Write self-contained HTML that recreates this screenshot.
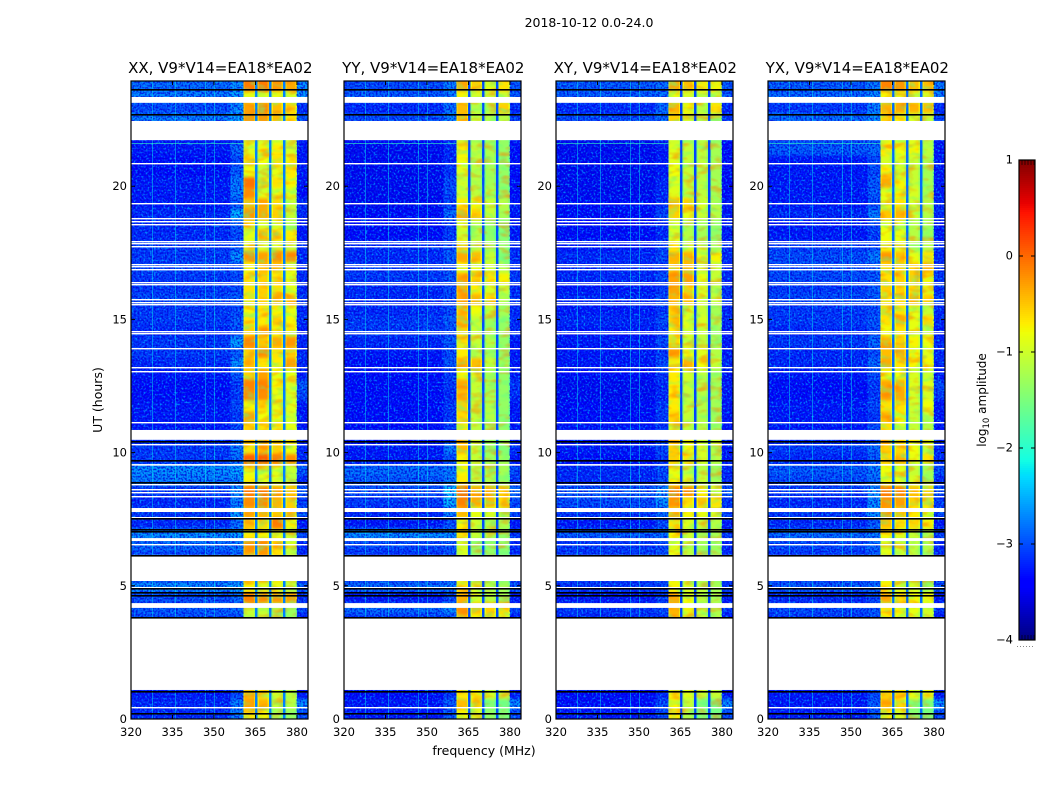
<!DOCTYPE html>
<html>
<head>
<meta charset="utf-8">
<title>Amplitude waterfall</title>
<style>
html,body{margin:0;padding:0;background:#fff;}
svg{display:block;}
text{font-family:"DejaVu Sans","Liberation Sans",sans-serif;fill:#000;}
</style>
</head>
<body>
<svg id="figure" xmlns="http://www.w3.org/2000/svg" width="1050" height="800" viewBox="0 0 1050 800">
  <defs>
    <filter id="speckle" x="0" y="0" width="100%" height="100%" color-interpolation-filters="sRGB">
      <feTurbulence type="fractalNoise" baseFrequency="0.5" numOctaves="1" seed="7"/>
      <feColorMatrix type="matrix" values="0 0 0 0 0  0 0 0 0 0.6  0 0 0 0 1  3.6 0 0 0 -1.65"/>
    </filter>
    <filter id="darkSpeckle" x="0" y="0" width="100%" height="100%" color-interpolation-filters="sRGB">
      <feTurbulence type="fractalNoise" baseFrequency="0.55" numOctaves="1" seed="23"/>
      <feColorMatrix type="matrix" values="0 0 0 0 0  0 0 0 0 0  0 0 0 0 0.85  3.6 0 0 0 -1.5"/>
    </filter>
    <filter id="warmMottle" x="0" y="0" width="100%" height="100%" color-interpolation-filters="sRGB">
      <feTurbulence type="fractalNoise" baseFrequency="0.07 0.14" numOctaves="2" seed="11"/>
      <feColorMatrix type="matrix" values="0 0 0 0 1  0 0 0 0 0.5  0 0 0 0 0  3.2 0 0 0 -1.55"/>
    </filter>
    <filter id="coolMottle" x="0" y="0" width="100%" height="100%" color-interpolation-filters="sRGB">
      <feTurbulence type="fractalNoise" baseFrequency="0.09 0.16" numOctaves="2" seed="31"/>
      <feColorMatrix type="matrix" values="0 0 0 0 0.35  0 0 0 0 1  0 0 0 0 0.55  3.2 0 0 0 -1.55"/>
    </filter>
    <filter id="rowSmooth" x="0" y="-5%" width="100%" height="110%" color-interpolation-filters="sRGB">
      <feGaussianBlur stdDeviation="0 1.5"/>
    </filter>
  </defs>
  <rect x="0" y="0" width="1050" height="800" fill="#fff"/>
  <text x="589" y="27" font-size="12.5" text-anchor="middle">2018-10-12 0.0-24.0</text>
  <g id="panels"></g>
  <text x="484" y="755" font-size="12.5" text-anchor="middle">frequency (MHz)</text>
  <text transform="translate(102,400) rotate(-90)" font-size="12.5" text-anchor="middle">UT (hours)</text>
  <g id="colorbar"></g>
  <text transform="translate(986,400) rotate(-90)" font-size="12" text-anchor="middle">log<tspan font-size="8.5" dy="3">10</tspan><tspan dy="-3"> amplitude</tspan></text>
</svg>
<script>
// --- Chart data -----------------------------------------------------------
var panelTitles = ["XX, V9*V14=EA18*EA02", "YY, V9*V14=EA18*EA02", "XY, V9*V14=EA18*EA02", "YX, V9*V14=EA18*EA02"];
var freqTicks = [320, 335, 350, 365, 380];
var utTicks = [0, 5, 10, 15, 20];
var colorTicks = [1, 0, -1, -2, -3, -4];
var freqRange = [320, 384];
var utRange = [0, 23.95];
var colorRange = [-4, 1];
var rowStepHours = 0.4;
var bgFreqs = [320, 356, 360.6];
var bandFreqs = [[360.6, 364.9], [365.7, 369.9], [370.8, 374.9], [375.8, 380]];
var rightFreqs = [380, 384];
var rfiFreqs = [327.6, 336, 346.8, 350];
var rfiUT = [15.76, 21.62];
var gapLevels = [-2.75, -3.0, -3.05, -2.85];
var bandEdgeDrop = 0.25;
var bandLift = 0.15;

// Flagged (blank) UT ranges, hours
var whiteBlocks = [[23.13, 23.35], [21.73, 22.45], [10.48, 10.85], [9.51, 9.57], [7.77, 7.92], [6.68, 6.79], [5.18, 6.16], [4.17, 4.35], [1.09, 3.81]];
var whiteLines = [20.89, 19.36, 18.80, 18.69, 18.58, 17.96, 17.85, 17.74, 17.07, 16.99, 16.88, 16.40, 16.32, 15.76, 15.65, 15.58, 14.56, 14.49, 13.91, 13.21, 13.06, 11.14, 10.31, 8.83, 8.63, 8.52, 8.38, 7.58, 6.57, 4.97, 0.45];
var blackLines = [23.66, 22.71, 10.42, 9.71, 8.91, 7.54, 7.12, 7.06, 6.14, 4.92, 4.77, 4.64, 3.82, 1.05, 0.23];

// One row per 0.4 h from the top: [background, near-band, band1, band2, band3, band4, right-edge] in log10 amplitude
var xxRows = [
[-2.8,-2.6,-0.25,-0.25,-0.4,-0.5,-2.6],[-2.7,-2.5,-1,-1,-1,-1.1,-2.6],[-3,-2.6,-0.45,-0.35,-0.6,-0.7,-3.2],[-2.7,-2.5,-0.4,-0.4,-0.6,-0.8,-2.9],null,
[-3.3,-3.1,-1,-1.1,-1,-1.2,-3.3],[-3.3,-2.8,-1.05,-0.9,-0.85,-1.1,-3.3],[-3.4,-3,-0.75,-0.95,-0.8,-0.9,-3.3],[-3.4,-2.9,-0.95,-1.2,-1,-0.85,-3.3],[-3.3,-2.7,-0.2,-1,-0.8,-0.9,-3.3],
[-3.3,-2.7,-0.35,-1,-1,-1.05,-3.4],[-3.3,-2.9,-0.6,-0.5,-0.75,-1.2,-3.2],[-3.2,-2.4,-0.4,-0.5,-0.7,-1.2,-3.2],[-3.2,-2.9,-0.75,-1.1,-1.1,-1.3,-3.3],[-3.2,-3,-1,-0.6,-0.75,-0.85,-3.3],
[-3.1,-2.9,-1.05,-1.1,-1.1,-1.2,-3.2],[-3.1,-2.6,-0.4,-0.45,-0.35,-0.35,-3.2],[-3,-3,-0.9,-0.6,-0.65,-1,-3.2],[-3.1,-3,-0.8,-0.7,-0.85,-1,-3.2],[-3.1,-3,-0.8,-0.7,-0.8,-1,-3.2],
[-3,-2.9,-0.8,-0.7,-0.55,-0.6,-3.1],[-3.1,-3,-0.9,-0.85,-0.9,-1,-3.2],[-3.1,-2.9,-0.8,-0.85,-0.7,-0.9,-3.2],[-3.2,-3,-0.7,-0.5,-0.9,-0.8,-3.3],[-3.1,-2.5,-0.35,-0.65,-0.5,-0.4,-3.2],
[-3.1,-2.9,-0.7,-0.4,-0.8,-0.7,-3.2],[-3.2,-2.6,-0.6,-0.85,-0.85,-0.45,-3.2],[-3.3,-2.9,-0.7,-0.45,-0.95,-1,-3.3],[-3.4,-3.1,-0.3,-0.3,-0.9,-1.05,-2.9],[-3.4,-3.1,-0.35,-0.35,-1,-1.1,-3],
[-3.3,-3,-0.9,-0.85,-1,-1.05,-3.3],[-3.3,-3.1,-0.45,-0.95,-0.95,-1.15,-3.3],[-3.3,-3,-0.7,-0.8,-0.85,-1,-3.3],[-3.2,-3,-0.6,-0.5,-0.6,-0.8,-3.2],[-3.1,-2.7,-0.8,-0.55,-0.7,-0.95,-3.2],
[-3.1,-2.8,-0.1,-0.1,-0.25,-0.35,-3.2],[-2.6,-2.5,-1,-1.05,-1.05,-1.2,-2.9],[-2.7,-2.6,-0.9,-1,-1.05,-1.2,-3.2],[-3.1,-2.6,-0.25,-0.25,-0.45,-0.6,-2.9],[-3.2,-2.7,-0.35,-0.35,-0.55,-0.7,-3.1],
[-3.1,-2.5,-0.55,-0.55,-0.65,-0.7,-2.9],[-3.2,-2.8,-0.6,-0.75,-0.25,-0.9,-3.3],[-2.6,-2.5,-0.85,-0.9,-1,-1.15,-3],[-2.8,-2.7,-0.4,-0.35,-0.7,-1.1,-3.2],[-3,-2.8,-0.5,-0.4,-0.8,-1.2,-3.2],
null,null,[-2.6,-2.5,-0.9,-1.05,-1,-1.2,-2.9],[-3,-2.8,-0.3,-0.35,-0.4,-0.45,-3.2],[-2.9,-2.8,-1.2,-1.2,-1.3,-1.45,-3],
[-3,-3,-1.2,-1.2,-1.3,-1.45,-3.3],null,null,null,null,null,null,
[-3.3,-3,-0.6,-0.8,-1.1,-1.2,-3.3],[-3.2,-2.7,-0.45,-0.55,-1.2,-1.3,-2.6],[-3.2,-2.7,-0.8,-0.9,-1.4,-1.5,-3]
];
var yyRows = [
[-3,-2.7,-0.5,-0.7,-1,-0.8,-2.9],[-2.9,-2.7,-0.9,-1.1,-1.2,-1.2,-2.9],[-3.2,-2.8,-0.6,-1.3,-1.3,-0.7,-3.2],[-3,-2.7,-0.6,-1.2,-1.3,-1.3,-3],null,
[-3.4,-3.2,-1.1,-1.3,-1.4,-1.5,-3.3],[-3.5,-3.2,-0.85,-1.25,-1.35,-1.5,-3.4],[-3.5,-3.2,-0.95,-1.25,-1.4,-1.5,-3.4],[-3.5,-3.1,-1.05,-1.3,-1.4,-1.5,-3.4],[-3.5,-3,-1.15,-1.3,-1.4,-1.55,-3.4],
[-3.5,-3,-1.15,-1.25,-1.3,-1.5,-3.4],[-3.5,-3.1,-0.85,-0.9,-1.2,-1.3,-3.3],[-3.4,-2.8,-0.55,-0.7,-1.2,-1.4,-3.3],[-3.4,-3.1,-1.1,-1.3,-1.5,-1.6,-3.3],[-3.4,-3.1,-1.15,-1.3,-1.5,-1.6,-3.3],
[-3.2,-3,-0.8,-1.2,-1.4,-1.5,-3.2],[-3.2,-2.9,-0.5,-0.6,-1.2,-1.6,-3.2],[-3.1,-3,-0.9,-1,-1.15,-1.3,-3.1],[-3.1,-2.9,-0.5,-0.7,-0.8,-0.9,-3.1],[-3.2,-3,-0.55,-0.85,-1.1,-1.2,-3.2],
[-3.2,-3,-0.55,-0.55,-0.75,-1.3,-3.1],[-3.2,-3,-0.65,-0.95,-1.2,-1.4,-3.2],[-3.1,-2.9,-0.6,-1.2,-1.4,-1.5,-3.2],[-3.1,-3,-0.7,-1.2,-1.4,-1.5,-3.2],[-3.2,-2.9,-0.85,-1.2,-1.3,-1.5,-3.3],
[-3.3,-3,-0.85,-1.25,-1.4,-1.5,-3.3],[-3.4,-2.9,-0.6,-0.6,-1.2,-1.4,-3.3],[-3.4,-3.1,-0.9,-1.1,-1.35,-1.5,-3.3],[-3.4,-3.1,-0.5,-1.2,-1.35,-1.5,-3.1],[-3.4,-3.2,-0.6,-1.2,-1.35,-1.5,-3.2],
[-3.4,-3.1,-0.7,-1.2,-1.3,-1.5,-3.3],[-3.4,-3.1,-0.75,-1.2,-1.3,-1.55,-3.3],[-3.4,-3.1,-0.85,-1.25,-1.35,-1.5,-3.3],[-3.3,-3.1,-0.5,-1.2,-1.35,-1.45,-3.3],[-3.3,-2.7,-0.6,-1.2,-1.5,-1.6,-3.2],
[-3.3,-3,-0.9,-1.2,-1.4,-1.4,-3.3],[-2.8,-2.7,-0.9,-1.3,-1.3,-1.4,-3],[-2.9,-2.7,-0.85,-1.25,-1.3,-1.45,-3.1],[-3,-2.3,-0.15,-0.5,-0.5,-0.7,-2.8],[-3.1,-2.4,-0.3,-0.5,-0.6,-0.8,-3],
[-3.2,-2.7,-0.6,-1,-1.1,-1.2,-3],[-3.3,-3,-0.9,-1.15,-1.3,-1.35,-3.3],[-2.6,-2.6,-0.8,-1.2,-1.3,-1.5,-3.1],[-3,-2.9,-1.1,-1.5,-1.5,-1.5,-3.2],[-3.1,-3,-1.05,-1.5,-1.5,-1.6,-3.2],
null,null,[-2.8,-2.7,-0.8,-1.1,-1.2,-1.4,-2.9],[-3.3,-3,-0.55,-1.1,-1.25,-1.4,-3.3],[-2.8,-2.6,-0.4,-0.6,-0.7,-0.75,-3],
[-3.1,-3,-0.6,-0.9,-1,-1.1,-3.3],null,null,null,null,null,null,
[-3.4,-3.1,-0.85,-0.9,-1.1,-1.2,-3.3],[-3.3,-2.9,-0.6,-0.9,-1.6,-1.7,-2.6],[-3.3,-2.9,-0.9,-1.1,-1.5,-1.6,-3]
];
var xyRows = [
[-2.9,-2.8,-0.5,-0.65,-0.85,-0.9,-2.9],[-2.9,-2.8,-1,-1.1,-1.2,-1.2,-2.9],[-3.2,-2.8,-0.55,-0.9,-1.2,-0.8,-3.2],[-3,-2.8,-0.7,-1.1,-1.25,-1.35,-3.1],null,
[-3.5,-3.2,-1.15,-1.25,-1.3,-1.45,-3.4],[-3.5,-3.3,-1.05,-1.2,-1.25,-1.4,-3.4],[-3.5,-3.3,-1.05,-1.2,-1.25,-1.4,-3.4],[-3.5,-3.3,-0.95,-1.2,-1.25,-1.4,-3.4],[-3.5,-3.2,-1.05,-1.2,-1.25,-1.4,-3.4],
[-3.5,-3.2,-1.05,-1.2,-1.25,-1.4,-3.4],[-3.4,-3.2,-0.6,-0.7,-1.1,-1.3,-3.3],[-3.4,-3,-0.7,-1,-1.15,-1.3,-3.3],[-3.4,-3.2,-1.1,-1.3,-1.4,-1.5,-3.3],[-3.4,-3.2,-1.1,-1.3,-1.4,-1.5,-3.3],
[-3.3,-3.1,-0.85,-1.1,-1.2,-1.4,-3.2],[-3.2,-3,-0.55,-0.55,-1,-0.9,-3.2],[-3.2,-3.1,-0.65,-0.6,-1.15,-1.2,-3.2],[-3.2,-3,-0.45,-0.45,-1,-1.2,-3.2],[-3.3,-3.1,-0.45,-0.7,-1.1,-1.3,-3.2],
[-3.2,-3,-0.55,-0.6,-1.05,-1.2,-3.1],[-3.3,-3.1,-0.7,-1.1,-1.2,-1.4,-3.2],[-3.2,-3,-0.7,-1.05,-1.1,-1.35,-3.2],[-3.3,-3.1,-0.85,-1.1,-1.2,-1.45,-3.3],[-3.3,-3,-0.75,-1.15,-1.25,-1.4,-3.3],
[-3.3,-3.1,-0.45,-0.95,-1.05,-1.3,-3.3],[-3.3,-3,-0.85,-0.55,-0.95,-1.2,-3.2],[-3.4,-3.1,-0.85,-1.15,-1.25,-1.4,-3.3],[-3.5,-3.2,-0.85,-1.2,-1.3,-1.4,-3.3],[-3.5,-3.2,-0.85,-1.2,-1.3,-1.4,-3.3],
[-3.4,-3.1,-0.85,-1.2,-1.3,-1.4,-3.3],[-3.4,-3.1,-0.7,-1.2,-1.3,-1.45,-3.3],[-3.3,-3.1,-1,-1.2,-1.3,-1.45,-3.3],[-3.3,-3.1,-0.6,-0.9,-1,-1.1,-3.3],[-3.3,-3,-0.7,-0.95,-1.1,-1.3,-3.3],
[-3.4,-3.1,-0.7,-0.8,-1.1,-1.3,-3.3],[-3.2,-3,-1,-1.25,-1.3,-1.45,-3.2],[-3.2,-3,-0.9,-1.1,-1.2,-1.35,-3.2],[-2.9,-2.6,-0.25,-0.35,-0.9,-1,-2.9],[-3,-2.6,-0.4,-0.8,-0.65,-0.8,-3.1],
[-3.1,-2.8,-0.6,-0.9,-1,-1.1,-3],[-3.3,-3,-0.8,-1.05,-1.2,-1.3,-3.3],[-2.9,-2.8,-0.9,-1.15,-1.3,-1.4,-3.1],[-3.1,-3,-1.05,-1.25,-1.4,-1.45,-3.2],[-3.1,-3,-1,-1.25,-1.35,-1.45,-3.2],
null,null,[-3.1,-3,-0.9,-1.1,-1.25,-1.4,-3.1],[-3.3,-3.1,-0.5,-0.95,-1.2,-1.35,-3.3],[-3.1,-3,-0.55,-0.95,-1.2,-1.35,-3.1],
[-3.2,-3.1,-0.6,-1,-1.2,-1.3,-3.3],null,null,null,null,null,null,
[-3.4,-3.2,-0.9,-1.05,-1.2,-1.2,-3.3],[-3.4,-3,-0.9,-1.2,-1.6,-1.7,-2.6],[-3.3,-3,-0.85,-1.3,-1.6,-1.7,-3]
];
var yxRows = [
[-2.9,-2.7,-0.3,-0.4,-0.6,-0.6,-2.7],[-2.8,-2.6,-0.9,-1,-1.1,-1.1,-2.7],[-3.1,-2.7,-0.55,-0.5,-0.55,-0.6,-3.2],[-2.8,-2.6,-0.7,-0.85,-1.1,-1.2,-3],null,
[-3,-2.9,-0.9,-1.05,-1.05,-1.3,-3.3],[-2.9,-2.8,-0.85,-0.95,-0.9,-1.25,-3.3],[-3.3,-3,-1.1,-1.1,-1.2,-1.35,-3.3],[-3.3,-3,-0.85,-1.1,-1.2,-1.4,-3.3],[-3.3,-2.9,-0.5,-0.9,-1.2,-1.4,-3.3],
[-3.3,-2.9,-1,-0.9,-1.1,-1.2,-3.3],[-3.3,-3,-1.05,-0.8,-1.15,-1.3,-3.2],[-3.2,-2.7,-0.65,-0.55,-1.15,-1.3,-3.2],[-3.3,-3,-1,-1.1,-1.3,-1.4,-3.3],[-3.3,-3.1,-0.95,-1,-1.3,-1.4,-3.3],
[-3.1,-3,-0.9,-1,-1.25,-1.3,-3.2],[-3,-2.7,-0.4,-0.6,-1,-0.8,-3.2],[-3,-2.9,-0.75,-0.7,-0.7,-0.55,-3.1],[-3,-2.9,-0.8,-0.7,-0.7,-0.9,-3.1],[-3.1,-2.9,-0.7,-0.7,-0.75,-1,-3.2],
[-3,-2.9,-0.8,-0.75,-0.55,-0.7,-3],[-3.1,-3,-0.75,-0.8,-1,-1.2,-3.2],[-3.1,-2.9,-0.8,-0.6,-1,-0.75,-3.2],[-3.2,-3,-0.95,-0.8,-1,-1.1,-3.3],[-3.1,-2.8,-0.55,-0.7,-0.9,-0.95,-3.2],
[-3.2,-3,-0.6,-0.55,-0.9,-1.05,-3.2],[-3.2,-2.8,-0.5,-0.8,-0.9,-0.9,-3.2],[-3.3,-3,-0.95,-0.95,-1.1,-1.2,-3.3],[-3.4,-3.1,-0.5,-0.55,-1.05,-1.05,-3],[-3.4,-3.1,-0.45,-0.5,-1.1,-1.1,-3.1],
[-3.3,-3,-0.8,-0.8,-1.15,-0.95,-3.3],[-3.3,-3.1,-0.55,-0.9,-1.2,-1.2,-3.3],[-3.3,-3,-0.8,-1.1,-1.2,-1.3,-3.3],[-3.2,-3,-0.45,-0.7,-0.8,-0.9,-3.2],[-3.1,-2.8,-0.7,-0.75,-0.95,-1.2,-3.2],
[-3.2,-2.9,-0.75,-0.6,-1,-0.8,-3.2],[-2.9,-2.7,-0.95,-1.05,-1.2,-1.35,-3],[-3,-2.8,-0.9,-1,-1.1,-1.3,-3.2],[-3.1,-2.6,-0.25,-0.3,-0.6,-0.7,-2.9],[-3.2,-2.6,-0.4,-0.45,-0.7,-0.75,-3.1],
[-3.1,-2.6,-0.45,-0.65,-0.85,-1,-3],[-3.2,-2.9,-0.6,-0.8,-0.75,-0.9,-3.3],[-2.8,-2.7,-0.9,-1.05,-1.15,-1.3,-3.1],[-3,-2.8,-1.1,-1.1,-1.25,-1.3,-3.2],[-3.1,-2.9,-1,-1.15,-1.25,-1.35,-3.2],
null,null,[-2.9,-2.8,-0.85,-1.05,-1.1,-1.25,-3],[-3.2,-3,-0.5,-0.8,-0.9,-0.95,-3.3],[-3,-2.9,-0.8,-0.9,-1,-1.1,-3.1],
[-3.1,-3,-0.85,-0.95,-1.05,-1.15,-3.3],null,null,null,null,null,null,
[-3.3,-3,-0.7,-0.8,-1,-1,-3.3],[-3.3,-2.9,-0.55,-0.75,-1.5,-1.6,-2.6],[-3.3,-2.9,-0.85,-1.1,-1.55,-1.65,-3]
];
var panelRows = [xxRows, yyRows, xyRows, yxRows];
var panelNames = ["xx", "yy", "xy", "yx"];

// --- Layout (pixels) ------------------------------------------------------
var panelLefts = [131, 344, 556, 768];
var panelWidth = 177;
var plotTop = 81, plotBottom = 719;
var cbLeft = 1019, cbRight = 1035, cbTop = 160, cbBottom = 640;
var NS = "http://www.w3.org/2000/svg";

function make(tag, attrs, parent) {
  var el = document.createElementNS(NS, tag);
  for (var k in attrs) el.setAttribute(k, attrs[k]);
  parent.appendChild(el);
  return el;
}
function interp(pts, t) {
  for (var i = 1; i < pts.length; i++) {
    if (t <= pts[i][0]) {
      var a = pts[i - 1], b = pts[i];
      return a[1] + (b[1] - a[1]) * (t - a[0]) / (b[0] - a[0]);
    }
  }
  return pts[pts.length - 1][1];
}
var jetR = [[0, 0], [0.35, 0], [0.66, 1], [0.89, 1], [1, 0.5]];
var jetG = [[0, 0], [0.125, 0], [0.375, 1], [0.64, 1], [0.91, 0], [1, 0]];
var jetB = [[0, 0.5], [0.11, 1], [0.34, 1], [0.65, 0], [1, 0]];
function colorOf(value) {
  var t = (value - colorRange[0]) / (colorRange[1] - colorRange[0]);
  t = Math.max(0, Math.min(1, t));
  return "rgb(" + Math.round(interp(jetR, t) * 255) + "," + Math.round(interp(jetG, t) * 255) + "," + Math.round(interp(jetB, t) * 255) + ")";
}
function xScale(left, f) { return left + (f - freqRange[0]) / (freqRange[1] - freqRange[0]) * panelWidth; }
function yScale(h) { return plotBottom - (h - utRange[0]) / (utRange[1] - utRange[0]) * (plotBottom - plotTop); }
function cbScale(v) { return cbBottom - (v - colorRange[0]) / (colorRange[1] - colorRange[0]) * (cbBottom - cbTop); }

var panelsGroup = document.getElementById("panels");

panelRows.forEach(function (rows, p) {
  var left = panelLefts[p], right = left + panelWidth, name = panelNames[p];
  var g = make("g", {}, panelsGroup);
  
  

  var clip = make("clipPath", {id: "clip-" + name}, g);
  make("rect", {x: left, y: plotTop, width: panelWidth, height: plotBottom - plotTop}, clip);
  var clipped = make("g", {"clip-path": "url(#clip-" + name + ")"}, g);
  
  

  var cells = make("g", {"shape-rendering": "crispEdges", filter: "url(#rowSmooth)"}, clipped);
  
  

  function cell(f0, f1, yTop, yBot, value) {
    var x0 = xScale(left, f0), x1 = xScale(left, f1);
    var r = make("rect", {x: x0.toFixed(2), y: yTop.toFixed(2), width: (x1 - x0).toFixed(2), height: (yBot - yTop + 0.4).toFixed(2), fill: colorOf(value)}, cells);
    
    
  }

  var lastRow = rows[0];
  rows.forEach(function (source, i) {
    var row = source || lastRow;
    lastRow = row;
    var yTop = yScale(utRange[1] - rowStepHours * i);
    var yBot = yScale(utRange[1] - rowStepHours * (i + 1));
    if (i === 0) yTop -= 12;
    if (i === rows.length - 1) yBot = plotBottom + 12;
    cell(bgFreqs[0], bgFreqs[1], yTop, yBot, row[0]);
    cell(bgFreqs[1], bgFreqs[2], yTop, yBot, row[1]);
    cell(rightFreqs[0], rightFreqs[1] + 1, yTop, yBot, row[6]);
    bandFreqs.forEach(function (band, b) {
      var v = row[2 + b] + bandLift;
      cell(band[0], band[1], yTop, yBot, v - bandEdgeDrop);
      cell(band[0] + 0.5, band[1] - 0.5, yTop, yBot, v);
      if (b < bandFreqs.length - 1) cell(band[1], bandFreqs[b + 1][0], yTop, yBot, gapLevels[p]);
    });
  });

  // Soft mottled texture inside the passbands
  bandFreqs.forEach(function (band) {
    var bx0 = xScale(left, band[0]), bx1 = xScale(left, band[1]);
    [["warmMottle", 0.55], ["coolMottle", 0.45]].forEach(function (m) {
      var mt = make("rect", {x: bx0.toFixed(2), y: plotTop, width: (bx1 - bx0).toFixed(2), height: plotBottom - plotTop, fill: "#000", filter: "url(#" + m[0] + ")", opacity: m[1]}, clipped);
      
      
    });
  });

  [["speckle", 0.85], ["darkSpeckle", 0.8]].forEach(function (s) {
    var tex = make("rect", {x: left, y: plotTop, width: xScale(left, bgFreqs[2]) - left, height: plotBottom - plotTop, fill: "#000", filter: "url(#" + s[0] + ")", opacity: s[1]}, clipped);
    
    
    var tex2 = make("rect", {x: xScale(left, rightFreqs[0]), y: plotTop, width: right - xScale(left, rightFreqs[0]), height: plotBottom - plotTop, fill: "#000", filter: "url(#" + s[0] + ")", opacity: s[1]}, clipped);
    
    
  });

  rfiFreqs.forEach(function (f) {
    var x = Math.round(xScale(left, f)) + 0.5;
    var l = make("line", {x1: x, x2: x, y1: plotTop, y2: plotBottom, stroke: colorOf(-2.2), "stroke-width": 1, opacity: 0.45}, clipped);
    
    
  });
  rfiUT.forEach(function (h) {
    var y = Math.round(yScale(h)) + 0.5;
    var l = make("line", {x1: left, x2: xScale(left, bgFreqs[2]), y1: y, y2: y, stroke: colorOf(-1.9), "stroke-width": 1, opacity: 0.6}, clipped);
    
    
  });

  whiteBlocks.forEach(function (b) {
    var yA = yScale(b[1]), yB = yScale(b[0]);
    var r = make("rect", {x: left, y: yA.toFixed(2), width: panelWidth, height: (yB - yA).toFixed(2), fill: "#fff"}, clipped);
    
    
  });
  whiteLines.forEach(function (h) {
    var y = Math.round(yScale(h));
    var r = make("rect", {x: left, y: y, width: panelWidth, height: 1.4, fill: "#fff"}, clipped);
    
    
  });
  blackLines.forEach(function (h) {
    var y = Math.round(yScale(h));
    var r = make("rect", {x: left, y: y, width: panelWidth, height: 1.6, fill: "#000"}, clipped);
    
    
  });

  var frame = make("rect", {x: left, y: plotTop, width: panelWidth, height: plotBottom - plotTop, fill: "none", stroke: "#000", "stroke-width": 1.2}, g);
  
  

  freqTicks.forEach(function (f) {
    var x = xScale(left, f);
    var t = make("path", {d: "M" + x + " " + plotBottom + "v-4M" + x + " " + plotTop + "v4", stroke: "#000", "stroke-width": 1, fill: "none"}, g);
    
    
    var lbl = make("text", {x: x, y: plotBottom + 17, "font-size": 11.5, "text-anchor": "middle"}, g);
    lbl.textContent = String(f);
    
    
  });
  utTicks.forEach(function (h) {
    var y = yScale(h);
    var t = make("path", {d: "M" + left + " " + y + "h4M" + right + " " + y + "h-4", stroke: "#000", "stroke-width": 1, fill: "none"}, g);
    
    
    var lbl = make("text", {x: left - 4, y: y + 4, "font-size": 11.5, "text-anchor": "end"}, g);
    lbl.textContent = String(h);
    
    
  });
  var title = make("text", {x: left + panelWidth / 2 + 0.8, y: 73, "font-size": 15, "text-anchor": "middle"}, g);
  title.textContent = panelTitles[p];
  
  
});

// Colorbar
var cbGroup = document.getElementById("colorbar");
var cbShades = make("g", {"shape-rendering": "crispEdges"}, cbGroup);


for (var yy = cbTop; yy < cbBottom; yy += 2) {
  var val = colorRange[1] - (yy + 1 - cbTop) / (cbBottom - cbTop) * (colorRange[1] - colorRange[0]);
  var strip = make("rect", {x: cbLeft, y: yy, width: cbRight - cbLeft, height: 2.2, fill: colorOf(val)}, cbShades);
  
  
}
var cbFrame = make("rect", {x: cbLeft, y: cbTop, width: cbRight - cbLeft, height: cbBottom - cbTop, fill: "none", stroke: "#000", "stroke-width": 1.2}, cbGroup);


colorTicks.forEach(function (v) {
  var y = cbScale(v);
  var t = make("path", {d: "M" + cbLeft + " " + y + "h4M" + cbRight + " " + y + "h-4", stroke: "#000", "stroke-width": 1, fill: "none"}, cbGroup);
  
  
  var lbl = make("text", {x: cbLeft - 6, y: y + 3.5, "font-size": 11.5, "text-anchor": "end"}, cbGroup);
  lbl.textContent = v < 0 ? "\u2212" + Math.abs(v) : String(v);
  
  
});
var cbMinorTop = make("path", {d: "M1022 160v5M1025 160v5M1028 160v5M1031 160v5M1034 160v5M1022 640v-5M1025 640v-5M1028 640v-5M1031 640v-5M1034 640v-5", stroke: "#000", "stroke-width": 0.8, fill: "none", opacity: 0.8}, cbGroup);


var cbDots = make("line", {x1: 1017, x2: 1035, y1: 646.5, y2: 646.5, stroke: "#888", "stroke-width": 1, "stroke-dasharray": "1 2"}, cbGroup);


</script>
</body>
</html>
